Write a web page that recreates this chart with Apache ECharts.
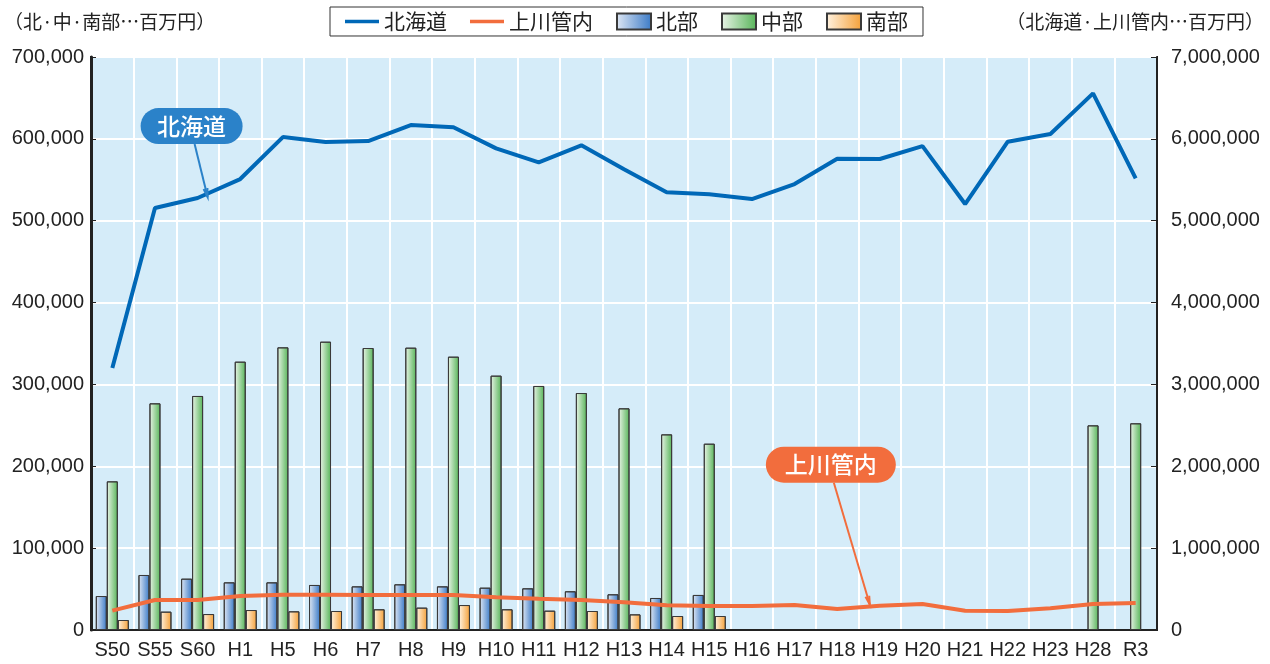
<!DOCTYPE html>
<html>
<head>
<meta charset="utf-8">
<script src="https://cdn.jsdelivr.net/npm/echarts@6/dist/echarts.min.js"></script>
<style>
html,body{margin:0;padding:0;background:#fff;}
#c{width:1270px;height:664px;}
</style>
</head>
<body>
<div id="c"></div>
<script>
const categories = ['S50','S55','S60','H1','H5','H6','H7','H8','H9','H10','H11','H12','H13','H14','H15','H16','H17','H18','H19','H20','H21','H22','H23','H28','R3'];
// 右軸（百万円）
const hokkaido = [3200000,5155000,5277000,5509000,6022000,5961000,5973000,6169000,6141000,5884000,5713000,5921000,5628000,5347000,5322000,5265000,5448000,5757000,5754000,5912000,5204000,5965000,6059000,6556000,5518000];
const kamikawa = [236000,366000,366000,415000,431000,432000,427000,427000,427000,399000,382000,366000,338000,302000,293000,293000,305000,256000,297000,318000,236000,232000,265000,318000,330000];
// 左軸（百万円）
const north   = [41500,67200,62700,58200,58200,55000,53300,55800,53300,51700,50900,47300,43600,39100,42800,null,null,null,null,null,null,null,null,null,null];
const central = [181600,276900,285900,327800,345300,352200,344500,344900,333900,310700,298100,289500,270800,239000,227600,null,null,null,null,null,null,null,null,250000,252500];
const south   = [12200,22400,19500,24400,22800,23200,25300,27300,30500,25300,23600,23200,19100,17100,17100,null,null,null,null,null,null,null,null,null,null];
const leftTicks = [0,100000,200000,300000,400000,500000,600000,700000];
const rightTicks = [0,1000000,2000000,3000000,4000000,5000000,6000000,7000000];

const FONT = '"Liberation Sans", "Noto Sans CJK JP", sans-serif';
const JFONT = '"Noto Sans CJK JP", "Liberation Sans", sans-serif';

function grad(c0, c1){
  return new echarts.graphic.LinearGradient(0,0,1,0,[{offset:0,color:c0},{offset:1,color:c1}]);
}
const blueG = grad('#e0e8f4','#3a7ac7');
const greenG = grad('#eaf4e8','#56b458');
const orangeG = grad('#fff3e2','#f4a038');

const chart = echarts.init(document.getElementById('c'), null, {renderer:'canvas'});
const fmt = v => v.toLocaleString('en-US');

const barCommon = {
  type:'bar', yAxisIndex:0, barWidth:11, barGap:'0%',
  itemStyle:{borderColor:'#3a3a3a', borderWidth:1}
};
const lineIcon = 'path://M0,0L0,0M0,6.2L34,6.2L34,9.8L0,9.8ZM34,16L34,16';

chart.setOption({
  animation:false,
  backgroundColor:'#ffffff',
  textStyle:{fontFamily:FONT},
  grid:{left:91, right:113, top:57, bottom:34, show:true, backgroundColor:'#d5ecf9', borderColor:'#222', borderWidth:2},
  legend:{
    left:330, top:7, padding:[4,15], itemGap:23, itemWidth:34, itemHeight:16,
    borderColor:'#333', borderWidth:1, backgroundColor:'#fff',
    textStyle:{fontSize:21, color:'#222', fontFamily:JFONT},
    data:[
      {name:'北海道', icon:lineIcon},
      {name:'上川管内', icon:lineIcon},
      {name:'北部', icon:'rect'},
      {name:'中部', icon:'rect'},
      {name:'南部', icon:'rect'}
    ]
  },
  xAxis:{
    type:'category', data:categories, boundaryGap:true,
    axisLine:{lineStyle:{color:'#222', width:2}},
    axisTick:{show:false},
    axisLabel:{fontSize:20, color:'#222', margin:10, interval:0, fontFamily:FONT},
    splitLine:{show:true, interval:0, lineStyle:{color:'#ffffff', width:2}}
  },
  yAxis:[
    {
      type:'value', min:leftTicks[0], max:leftTicks[leftTicks.length-1], interval:leftTicks[1]-leftTicks[0],
      position:'left',
      axisLine:{show:true, lineStyle:{color:'#222', width:3}},
      axisTick:{show:true, inside:true, length:5, lineStyle:{color:'#222'}},
      axisLabel:{fontSize:20, color:'#222', margin:7, formatter:fmt, fontFamily:FONT},
      splitLine:{show:true, lineStyle:{color:'#ffffff', width:2}}
    },
    {
      type:'value', min:rightTicks[0], max:rightTicks[rightTicks.length-1], interval:rightTicks[1]-rightTicks[0],
      position:'right',
      axisLine:{show:true, lineStyle:{color:'#222', width:2}},
      axisTick:{show:true, inside:true, length:6, lineStyle:{color:'#222'}},
      axisLabel:{fontSize:20, color:'#222', margin:14, formatter:fmt, fontFamily:FONT},
      splitLine:{show:false}
    }
  ],
  series:[
    Object.assign({}, barCommon, {name:'北部', data:north, itemStyle:Object.assign({}, barCommon.itemStyle, {color:blueG})}),
    Object.assign({}, barCommon, {name:'中部', data:central, itemStyle:Object.assign({}, barCommon.itemStyle, {color:greenG})}),
    Object.assign({}, barCommon, {name:'南部', data:south, itemStyle:Object.assign({}, barCommon.itemStyle, {color:orangeG})}),
    {name:'北海道', type:'line', yAxisIndex:1, data:hokkaido, symbol:'none', z:5,
     lineStyle:{color:'#0068b7', width:4}, itemStyle:{color:'#0068b7'}},
    {name:'上川管内', type:'line', yAxisIndex:1, data:kamikawa, symbol:'none', z:5,
     lineStyle:{color:'#f26d3d', width:4}, itemStyle:{color:'#f26d3d'}}
  ]
});

// Annotations anchored to data points
function callout(cat, val, label, color, boxW, dxTip, boxDx, boxDy){
  const p = chart.convertToPixel({xAxisIndex:0, yAxisIndex:1}, [cat, val]);
  const tip = [p[0]+dxTip, p[1]-1];
  const bx = p[0]+boxDx, by = p[1]+boxDy; // box center
  const start = [bx+3, by+18];
  const ang = Math.atan2(tip[1]-start[1], tip[0]-start[0]);
  const ah = 9, aw = 0.22;
  const a1 = [tip[0]-ah*Math.cos(ang-aw), tip[1]-ah*Math.sin(ang-aw)];
  const a2 = [tip[0]-ah*Math.cos(ang+aw), tip[1]-ah*Math.sin(ang+aw)];
  return [
    {type:'line', shape:{x1:start[0], y1:start[1], x2:tip[0], y2:tip[1]}, style:{stroke:color, lineWidth:2}, z:100},
    {type:'polyline', shape:{points:[a1, tip, a2]}, style:{stroke:color, lineWidth:2, fill:null}, z:100},
    {type:'rect', shape:{x:bx-boxW/2, y:by-18, width:boxW, height:36, r:18}, style:{fill:color}, z:101},
    {type:'text', x:bx, y:by, style:{text:label, fill:'#fff', font:'500 23px '+JFONT, align:'center', verticalAlign:'middle'}, z:102}
  ];
}

const g = [].concat(
  callout('S60', hokkaido[2], '北海道', '#2b82c9', 102, 10, -6, -72),
  callout('H19', kamikawa[18], '上川管内', '#f26d3d', 130, -10, -49, -141),
  [
    {type:'text', left:4, top:12, style:{text:'（北·中·南部…百万円）', fill:'#222', font:'19px '+JFONT}},
    {type:'text', right:6, top:12, style:{text:'（北海道·上川管内…百万円）', fill:'#222', font:'19px '+JFONT}}
  ]
);
chart.setOption({graphic:g});
</script>
</body>
</html>
